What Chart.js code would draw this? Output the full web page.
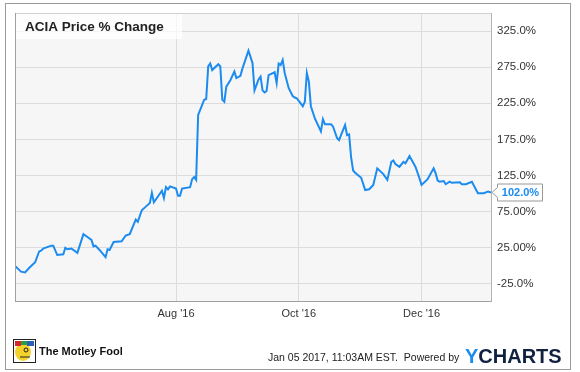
<!DOCTYPE html>
<html>
<head>
<meta charset="utf-8">
<script src="https://cdn.jsdelivr.net/npm/chart.js@4"></script>
<style>
  html, body { margin: 0; padding: 0; background: #fff; }
  #wrap { width: 580px; height: 372px; position: relative; }
</style>
</head>
<body>
<div id="wrap"><canvas id="c" width="580" height="372"></canvas></div>
<script>
// Day offsets counted from 2016-05-13 (first trading day of ACIA)
const days = [0,3,5,7,10,12,13,14,18,19,21,24,25,26,28,31,34,36,38,39,40,42,45,46,47,49,53,55,57,60,61,63,65,67,68,69,73,74,75,76,77,80,81,82,83,87,88,89,90,91,93,94,95,96,97,98,101,102,103,104,105,107,109,110,112,113,116,118,119,121,122,123,124,125,126,129,130,131,132,133,134,136,138,139,140,143,144,145,146,147,149,152,153,154,157,158,160,161,164,165,166,167,168,169,172,174,176,178,180,183,185,187,188,189,191,193,194,195,196,198,199,201,202,205,208,209,210,211,213,214,216,217,221,222,224,227,230,233,235,236,237];
const pctChange = [0,-8,-9,-3,5,20,21,24,28,28,15,16,25,23,24,18,44,40,36,27,28,22,12,23,22,33,34,42,44,64,61,77,82,87,101,88,104,94,109,106,110,107,97,97,107,109,120,123,119,209,223,230,231,276,280,271,279,276,230,227,248,257,269,260,263,273,298,281,243,258,262,243,240,242,264,268,253,280,278,285,267,246,235,233,232,221,227,267,255,221,204,186,203,196,196,193,177,174,195,181,182,150,132,129,122,105,106,112,135,127,119,144,146,141,137,144,142,147,152,142,137,121,112,120,135,128,118,116.5,117.5,113,116.5,115,115.7,113,113,116.5,100.5,100.5,103,102,102];
const yTickValues = [-25,25,75,125,175,225,275,325];
const yTickLabels = ['-25.0%','25.00%','75.00%','125.0%','175.0%','225.0%','275.0%','325.0%'];
const xTickDays = [80,141,202];
const xTickLabels = ["Aug '16","Oct '16","Dec '16"];
const lastLabel = '102.0%';
const titleText = 'ACIA Price % Change';
const footerText = 'Jan 05 2017, 11:03AM EST.  Powered by';

const FONT = '"Liberation Sans", Arial, sans-serif';
const BLUE = '#1b8bef';

const deco = {
  id: 'deco',
  beforeDraw(chart) {
    const ctx = chart.ctx, a = chart.chartArea;
    ctx.save();
    ctx.fillStyle = '#fff';
    ctx.fillRect(0, 0, chart.width, chart.height);
    ctx.strokeStyle = '#9a9a9a';
    ctx.lineWidth = 1;
    ctx.strokeRect(5.5, 3.5, 565, 366);
    ctx.fillStyle = '#f6f6f6';
    ctx.fillRect(a.left, a.top, a.right - a.left, a.bottom - a.top);
    ctx.restore();
  },
  afterDraw(chart) {
    const ctx = chart.ctx, a = chart.chartArea;
    ctx.save();
    // plot borders
    ctx.lineWidth = 1;
    ctx.strokeStyle = '#d2d2d2';
    ctx.beginPath(); ctx.moveTo(a.left, a.top + 0.5); ctx.lineTo(a.right, a.top + 0.5); ctx.stroke();
    ctx.strokeStyle = '#a0a0a0';
    ctx.beginPath(); ctx.moveTo(a.left + 0.5, a.top); ctx.lineTo(a.left + 0.5, a.bottom); ctx.stroke();
    ctx.beginPath(); ctx.moveTo(a.left, a.bottom - 0.5); ctx.lineTo(a.right, a.bottom - 0.5); ctx.stroke();
    ctx.strokeStyle = '#b4b4b4';
    ctx.beginPath(); ctx.moveTo(a.right - 0.5, a.top); ctx.lineTo(a.right - 0.5, a.bottom); ctx.stroke();

    // title box
    ctx.fillStyle = 'rgba(255,255,255,0.72)';
    ctx.fillRect(a.left + 1, a.top + 1, 166, 25);
    ctx.fillStyle = '#222';
    ctx.font = 'bold 13.5px ' + FONT;
    ctx.textBaseline = 'alphabetic';
    ctx.textAlign = 'left';
    ctx.fillText(titleText, 25, 31);

    // last value label
    const ys = chart.scales.y;
    const yv = Math.round(ys.getPixelForValue(pctChange[pctChange.length - 1])) + 0.5;
    const bx = 497.5, bw = 45, bh = 17;
    ctx.fillStyle = '#fff';
    ctx.strokeStyle = '#999';
    ctx.beginPath();
    ctx.moveTo(a.right, yv);
    ctx.lineTo(bx, yv - 5);
    ctx.lineTo(bx, yv - bh / 2);
    ctx.lineTo(bx + bw, yv - bh / 2);
    ctx.lineTo(bx + bw, yv + bh / 2);
    ctx.lineTo(bx, yv + bh / 2);
    ctx.lineTo(bx, yv + 5);
    ctx.closePath();
    ctx.fill(); ctx.stroke();
    ctx.fillStyle = BLUE;
    ctx.font = 'bold 11px ' + FONT;
    ctx.textAlign = 'center';
    ctx.textBaseline = 'middle';
    ctx.fillText(lastLabel, bx + bw / 2 + 0.5, yv + 0.5);

    // footer: Motley Fool logo
    ctx.fillStyle = '#fff';
    ctx.fillRect(13, 339, 23, 24);
    ctx.strokeStyle = '#222';
    ctx.strokeRect(13.5, 339.5, 22, 23);
    ctx.fillStyle = '#f4d22c';
    ctx.beginPath(); ctx.ellipse(23, 352, 8, 9, 0, 0, Math.PI * 2); ctx.fill();
    ctx.fillStyle = '#d8262f';
    ctx.fillRect(15, 341, 6, 5);
    ctx.fillStyle = '#2a9d3c';
    ctx.fillRect(21, 341, 6, 4);
    ctx.fillStyle = '#2e5fb7';
    ctx.fillRect(27, 341, 7, 5);
    ctx.strokeStyle = '#222';
    ctx.beginPath(); ctx.arc(26, 350, 2, 0, Math.PI * 2); ctx.stroke();
    ctx.beginPath(); ctx.moveTo(20, 357); ctx.lineTo(30, 357); ctx.stroke();

    ctx.fillStyle = '#111';
    ctx.font = 'bold 11px ' + FONT;
    ctx.textAlign = 'left';
    ctx.textBaseline = 'middle';
    ctx.fillText('The Motley Fool', 39, 351.5);

    ctx.fillStyle = '#222';
    ctx.font = '10.5px ' + FONT;
    ctx.fillText(footerText, 268, 358);

    ctx.font = 'bold 20px ' + FONT;
    ctx.textBaseline = 'alphabetic';
    ctx.fillStyle = '#1a8cf0';
    ctx.fillText('Y', 465, 363);
    const yw = ctx.measureText('Y').width;
    ctx.fillStyle = '#10213f';
    ctx.fillText('CHARTS', 465 + yw, 363);
    ctx.restore();
  }
};

new Chart(document.getElementById('c'), {
  type: 'line',
  data: {
    datasets: [{
      data: days.map((d, i) => ({ x: d, y: pctChange[i] })),
      borderColor: BLUE,
      borderWidth: 2,
      pointRadius: 0,
      tension: 0,
      fill: false
    }]
  },
  options: {
    responsive: false,
    animation: false,
    events: [],
    layout: { padding: { left: 15, top: 13, right: 9, bottom: 0 } },
    plugins: { legend: { display: false }, tooltip: { enabled: false }, title: { display: false } },
    scales: {
      x: {
        type: 'linear',
        min: 0,
        max: 237,
        afterBuildTicks: s => { s.ticks = xTickDays.map(v => ({ value: v })); },
        afterFit: s => { s.height = 70; },
        ticks: {
          autoSkip: false,
          maxRotation: 0,
          padding: 5,
          color: '#333',
          font: { family: FONT, size: 11 },
          callback: (v, i) => xTickLabels[i]
        },
        grid: { color: '#dcdcdc', drawTicks: false },
        border: { display: false }
      },
      y: {
        position: 'right',
        min: -50,
        max: 350,
        afterBuildTicks: s => { s.ticks = yTickValues.map(v => ({ value: v })); },
        afterFit: s => { s.width = 79; },
        ticks: {
          padding: 5,
          color: '#333',
          font: { family: FONT, size: 11.5 },
          callback: (v, i) => yTickLabels[i]
        },
        grid: { color: '#dcdcdc', drawTicks: false },
        border: { display: false }
      }
    }
  },
  plugins: [deco]
});
</script>
</body>
</html>
